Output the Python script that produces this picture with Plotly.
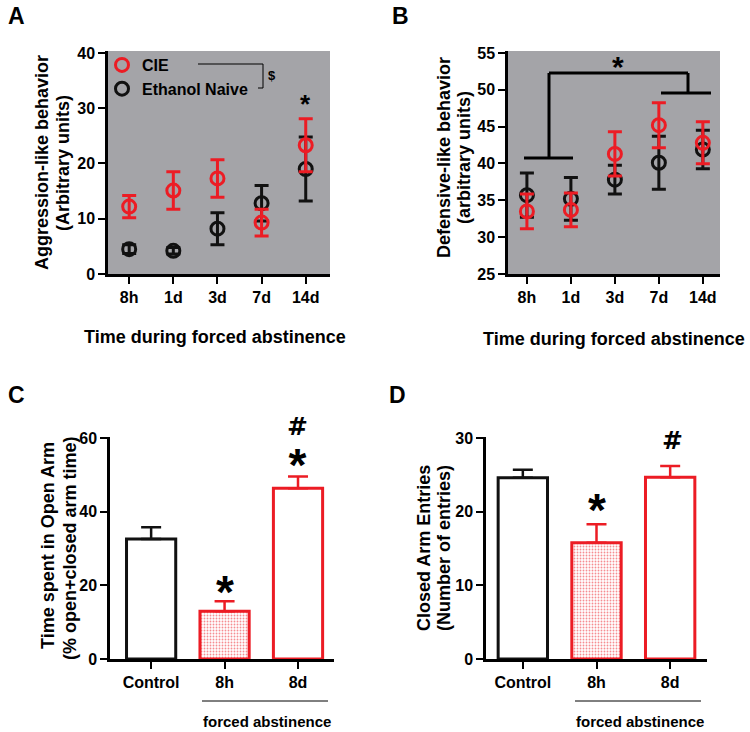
import plotly.graph_objects as go

# ── Data ─────────────────────────────────────────────────────────────────────
time_points = ["8h", "1d", "3d", "7d", "14d"]

# Panel A: aggression-like behavior (mean, SEM)
aggr_cie = [12.2, 15.1, 17.3, 9.3, 23.3]
aggr_cie_sem = [2.0, 3.4, 3.4, 2.4, 4.8]
aggr_naive = [4.5, 4.2, 8.2, 12.8, 19.0]
aggr_naive_sem = [0.8, 0.6, 2.9, 3.2, 5.8]

# Panel B: defensive-like behavior (mean, SEM)
def_cie = [33.5, 33.7, 41.3, 45.2, 42.8]
def_cie_sem = [2.35, 2.3, 3.0, 3.05, 2.85]
def_naive = [35.7, 35.2, 37.8, 40.1, 41.9]
def_naive_sem = [3.0, 2.9, 1.95, 3.6, 2.6]

# Panels C, D: elevated plus maze
epm_groups = ["Control", "8h", "8d"]
open_arm_time = [32.6, 13.0, 46.4]
open_arm_sem = [3.2, 2.7, 3.2]
closed_entries = [24.6, 15.8, 24.7]
closed_entries_sem = [1.1, 2.5, 1.5]

# ── Style ────────────────────────────────────────────────────────────────────
W, H = 750, 732
RED = "#ec1c24"
BLACK = "#111111"
GRAY = "#a4a4a8"
FONT = "Liberation Sans, Arial, sans-serif"
TICKFONT = {"family": FONT, "size": 16, "color": "black", "weight": "bold"}


def px(x):
    return x / W


def py(y):
    return 1 - y / H


axis_common = dict(
    showline=True, linecolor="black", linewidth=2.5, mirror=False,
    ticks="outside", ticklen=7, tickwidth=2, tickcolor="black",
    showgrid=False, zeroline=False, tickfont=TICKFONT, automargin=False,
)

fig = go.Figure()


def scatter(x, y, sem, color, name, xa, ya, legend):
    return go.Scatter(
        x=x, y=y, mode="markers", name=name, showlegend=legend,
        xaxis=xa, yaxis=ya,
        marker={"symbol": "circle-open", "size": 13, "color": color,
                "line": {"width": 3, "color": color}},
        error_y={"type": "data", "array": sem, "color": color,
                 "thickness": 3, "width": 7},
    )


# Panel A (black first so red sits on top)
fig.add_trace(scatter(time_points, aggr_naive, aggr_naive_sem, BLACK, "Ethanol Naive", "x", "y", True))
fig.add_trace(scatter(time_points, aggr_cie, aggr_cie_sem, RED, "CIE", "x", "y", True))
# Panel B
fig.add_trace(scatter(time_points, def_naive, def_naive_sem, BLACK, "Ethanol Naive", "x2", "y2", False))
fig.add_trace(scatter(time_points, def_cie, def_cie_sem, RED, "CIE", "x2", "y2", False))


def bars(values, sem, xa, ya):
    return [go.Bar(
        x=epm_groups[:1], y=values[:1], xaxis=xa, yaxis=ya, width=0.67,
        showlegend=False,
        marker={"color": "white", "line": {"color": BLACK, "width": 3}},
        error_y={"type": "data", "symmetric": False, "array": sem[:1],
                 "arrayminus": [0], "color": BLACK, "thickness": 2.5, "width": 10},
    ), go.Bar(
        x=epm_groups[1:], y=values[1:], xaxis=xa, yaxis=ya, width=0.67,
        showlegend=False,
        marker={"color": "white", "line": {"color": RED, "width": 3},
                "pattern": {"shape": [".", ""], "fgcolor": RED, "bgcolor": "white",
                            "size": 3, "solidity": 0.3}},
        error_y={"type": "data", "symmetric": False, "array": sem[1:],
                 "arrayminus": [0, 0], "color": RED, "thickness": 2.5, "width": 10},
    )]


for t in bars(open_arm_time, open_arm_sem, "x3", "y3"):
    fig.add_trace(t)
for t in bars(closed_entries, closed_entries_sem, "x4", "y4"):
    fig.add_trace(t)

fig.update_layout(
    width=W, height=H,
    margin={"l": 0, "r": 0, "t": 0, "b": 0},
    paper_bgcolor="white", plot_bgcolor="rgba(0,0,0,0)",
    font={"family": FONT, "color": "black"},
    barmode="overlay",
    xaxis=dict(axis_common, domain=[px(108), px(330)], range=[-0.48, 4.55], anchor="y"),
    yaxis=dict(axis_common, domain=[py(274), py(51)], range=[0, 40.36],
               tickvals=[0, 10, 20, 30, 40], anchor="x"),
    xaxis2=dict(axis_common, domain=[px(508), px(720)], range=[-0.43, 4.39], anchor="y2"),
    yaxis2=dict(axis_common, domain=[py(274), py(51)], range=[25, 55.27],
                tickvals=[25, 30, 35, 40, 45, 50, 55], anchor="x2"),
    xaxis3=dict(axis_common, domain=[px(110), px(334)], range=[-0.56, 2.49], anchor="y3"),
    yaxis3=dict(axis_common, domain=[py(659), py(437)], range=[0, 60.3],
                tickvals=[0, 20, 40, 60], anchor="x3"),
    xaxis4=dict(axis_common, domain=[px(486), px(707)], range=[-0.5, 2.5], anchor="y4"),
    yaxis4=dict(axis_common, domain=[py(659), py(437)], range=[0, 30.15],
                tickvals=[0, 10, 20, 30], anchor="x4"),
    legend={"x": px(102), "y": py(48), "xanchor": "left", "yanchor": "top",
            "traceorder": "reversed", "bgcolor": "rgba(0,0,0,0)",
            "font": {"family": FONT, "size": 16, "color": "black", "weight": "bold"},
            "tracegroupgap": 0},
)

# grey plot backgrounds for A and B
for xr, yr in [("x domain", "y domain"), ("x2 domain", "y2 domain")]:
    fig.add_shape(type="rect", xref=xr, yref=yr, x0=0, x1=1, y0=0, y1=1,
                  fillcolor=GRAY, line={"width": 0}, layer="below")


def line(x0, y0, x1, y1, width=1):
    fig.add_shape(type="line", xref="paper", yref="paper",
                  x0=px(x0), y0=py(y0), x1=px(x1), y1=py(y1),
                  line={"color": "black", "width": width})


def text(x, y, s, size=16, bold=True, angle=0, pad=1, family=FONT):
    fig.add_annotation(x=px(x), y=py(y), xref="paper", yref="paper", text=s,
                       showarrow=False, textangle=angle, xanchor="center", yanchor="middle",
                       borderpad=pad,
                       font={"family": family, "size": size, "color": "black",
                             "weight": "bold" if bold else "normal"})


def star(x, y, size):
    # asterisk ink sits high in its box, so anchor a bit lower than its centre
    text(x, y + 0.15 * size, "*", size=size)


HASH = "<span style='font-family:DejaVu Sans;font-size:25px'>#</span>"

# legend bracket ($) in A
line(198, 64, 263, 64)
line(263, 64, 263, 88)
line(258, 88, 263, 88)
text(272, 75, "$", size=13)
star(305, 100, 26)

# comparison bracket in B
line(524, 158, 573, 158, 3)
line(549, 158, 549, 73, 3)
line(549, 73, 688, 73, 3)
line(688, 73, 688, 93, 3)
line(661, 93, 711, 93, 3)
star(618, 62, 30)

# significance marks in C and D
star(225, 585, 46)
text(297, 451, HASH + "<br><span style='font-size:46px'>*</span>", size=35)
star(597, 503, 46)
text(672, 441, HASH, size=25)

# forced abstinence lines
line(202, 701, 328, 701)
text(267, 721, "forced abstinence", size=15)
line(575, 701, 701, 701)
text(640, 721, "forced abstinence", size=15)

# axis titles
text(42, 163, "Aggression-like behavior", size=18, angle=-90)
text(63, 163, "(Arbitrary units)", size=18, angle=-90)
text(215, 337, "Time during forced abstinence", size=18)
text(444, 158, "Defensive-like behavior", size=18, angle=-90)
text(464, 158, "(arbitrary units)", size=18, angle=-90)
text(614, 339, "Time during forced abstinence", size=18)
text(48, 546, "Time spent in Open Arm", size=18, angle=-90)
text(70, 548, "(% open+closed arm time)", size=18, angle=-90)
text(424, 548, "Closed Arm Entries", size=18, angle=-90)
text(444, 548, "(Number of entries)", size=18, angle=-90)

# panel letters
text(16, 16, "A", size=23, pad=0)
text(400, 16, "B", size=23, pad=0)
text(16, 395, "C", size=23, pad=0)
text(398, 395, "D", size=23, pad=0)

# the page body's default 8px margin would shift the figure off the window
fig.write_html("out.html", config={"displayModeBar": False},
               post_script="document.body.style.margin='0px';")
